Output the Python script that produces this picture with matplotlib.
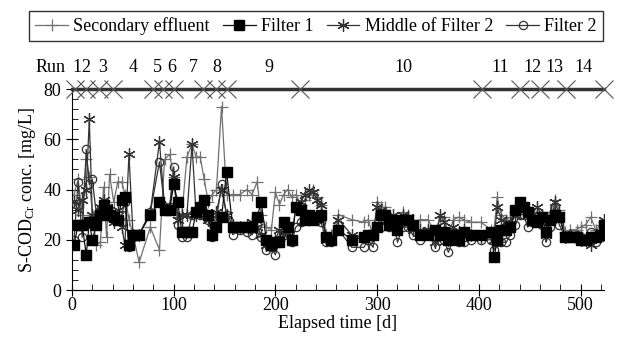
import matplotlib
matplotlib.use("Agg")
import matplotlib.pyplot as plt
from matplotlib.ticker import MultipleLocator
import numpy as np

plt.rcParams['font.family'] = ['Liberation Serif', 'DejaVu Serif']
plt.rcParams['mathtext.fontset'] = 'custom'
plt.rcParams['mathtext.rm'] = 'Liberation Serif'
plt.rcParams['mathtext.it'] = 'Liberation Serif:italic'

days = [2, 6, 10, 14, 17, 20, 24, 28, 31, 34, 37, 41, 45, 49, 52, 56, 60, 66, 77, 86,
        91, 96, 100, 104, 108, 113, 118, 122, 126, 130, 134, 138, 142, 147, 152, 158, 165,
        172, 177, 182, 186, 191, 196, 200, 204, 208, 212, 216, 220, 225, 229, 233, 237,
        241, 245, 250, 255, 262, 275, 287, 291, 296, 300, 304, 308, 312, 316, 320, 325,
        330, 335, 342, 350, 357, 362, 366, 370, 375, 380, 385, 392, 402, 412, 415, 418,
        422, 427, 431, 436, 440, 444, 448, 452, 457, 462, 466, 470, 475, 479, 485, 490,
        496, 500, 505, 510, 515, 520, 523]

secondary = [38, 44, 30, 52, 45, 30, 18, 19, 41, 21, 46, 35, 43, 43, 38, 28, 22, 11, 25, 16,
             52, 54, 45, 29, 30, 53, 58, 53, 53, 44, 35, 38, 40, 73, 38, 38, 38,
             40, 38, 43, 30, 25, 24, 39, 34, 38, 40, 37, 38, 34, 36, 38, 40,
             37, 34, 22, 22, 30, 28, 27, 28, 22, 35, 33, 33, 30, 27, 28, 31,
             30, 27, 28, 28, 23, 29, 29, 22, 28, 29, 28, 27, 27, 24, 24, 37,
             30, 28, 29, 31, 34, 33, 32, 31, 31, 30, 27, 31, 36, 32, 23, 24,
             24, 25, 26, 29, 24, 26, 27]

filter1 = [18, 26, 26, 14, 27, 20, 26, 30, 34, 32, 30, 29, 28, 36, 37, 18, 22, 22, 30, 35,
           32, 32, 42, 35, 23, 23, 23, 31, 33, 36, 30, 22, 25, 29, 47, 25, 25,
           25, 25, 29, 35, 20, 18, 19, 19, 27, 25, 20, 33, 32, 28, 30, 28,
           29, 30, 21, 20, 24, 20, 21, 22, 22, 25, 30, 30, 26, 28, 24, 28,
           28, 26, 22, 22, 24, 22, 23, 20, 22, 20, 23, 22, 22, 23, 13, 20,
           24, 24, 25, 32, 35, 33, 31, 28, 27, 29, 23, 28, 30, 29, 21, 21,
           21, 20, 20, 21, 21, 22, 26]

middle_f2 = [35, 32, 36, 40, 68, 30, 28, 33, 36, 33, 30, 27, 32, 25, 18, 54, 22, 22, 31, 59,
             33, 33, 45, 28, 30, 30, 58, 30, 31, 30, 28, 23, 31, 40, 30, 26, 25,
             26, 27, 25, 22, 18, 18, 20, 24, 22, 26, 20, 33, 35, 38, 40, 39,
             36, 34, 20, 20, 28, 22, 21, 21, 22, 33, 32, 30, 27, 30, 25, 30,
             29, 24, 24, 24, 19, 30, 27, 20, 25, 23, 24, 22, 21, 22, 20, 33,
             28, 27, 26, 30, 32, 32, 30, 30, 33, 30, 22, 27, 35, 30, 21, 22,
             21, 20, 20, 18, 21, 23, 28]

filter2 = [20, 43, 21, 56, 42, 44, 30, 32, 31, 32, 29, 30, 28, 30, 35, 17, 21, 22, 31, 51,
           33, 33, 49, 26, 21, 21, 30, 31, 30, 30, 28, 21, 28, 42, 30, 22, 24,
           23, 22, 26, 21, 16, 17, 14, 20, 22, 23, 19, 25, 27, 28, 28, 29,
           28, 27, 19, 19, 24, 17, 17, 20, 17, 25, 25, 28, 25, 27, 19, 25,
           25, 22, 20, 23, 17, 20, 20, 15, 20, 19, 19, 20, 20, 20, 16, 19,
           19, 19, 22, 26, 30, 30, 25, 27, 27, 26, 19, 25, 33, 26, 21, 22,
           22, 21, 20, 23, 19, 21, 22]

run_bounds = [3, 14, 27, 40, 80, 89, 100, 129, 142, 152, 224, 403, 440, 460, 486, 523]
run_labels = ['1', '2', '3', '4', '5', '6', '7', '8', '9', '10', '11', '12', '13', '14']
run_label_days = [5, 14, 30, 60, 84, 98, 119, 142, 194, 326, 421, 453, 474, 503]

fig = plt.figure(figsize=(6.26, 3.5), dpi=100)
ax = fig.add_axes([0.115, 0.1714, 0.8498, 0.5743])

asterisk = (6, 2, 0)
l1, = ax.plot(days, secondary, color='#707070', lw=0.9, marker='+', ms=9, mew=0.9,
              label='Secondary effluent', zorder=2)
l2, = ax.plot(days, filter1, color='#111111', lw=0.9, marker='s', ms=6.5, mfc='black',
              mec='black', label='Filter 1', zorder=4)
l3, = ax.plot(days, middle_f2, color='#333333', lw=0.9, marker=asterisk, ms=9, mew=0.9,
              label='Middle of Filter 2', zorder=3)
l4, = ax.plot(days, filter2, color='#333333', lw=0.9, marker='o', ms=6, mfc='none',
              mec='#333333', mew=0.9, label='Filter 2', zorder=3)

# run bar at the top
ax.plot([0, 523], [80, 80], color='#333333', lw=2.5, clip_on=False, zorder=5)
ax.plot(run_bounds, [80] * len(run_bounds), linestyle='none', marker='x', ms=13,
        mew=0.8, color='#555555', clip_on=False, zorder=6)
ax.text(-6, 88.5, 'Run', ha='right', va='center', fontsize=13)
for lab, d in zip(run_labels, run_label_days):
    ax.text(d, 88.5, lab, ha='center', va='center', fontsize=13)

ax.set_xlim(0, 523)
ax.set_ylim(0, 80)
ax.spines['top'].set_visible(False)
ax.spines['right'].set_visible(False)
ax.xaxis.set_major_locator(MultipleLocator(100))
ax.xaxis.set_minor_locator(MultipleLocator(20))
ax.yaxis.set_major_locator(MultipleLocator(20))
ax.yaxis.set_minor_locator(MultipleLocator(4))
ax.tick_params(which='major', direction='inout', length=8, width=0.8, labelsize=13)
ax.tick_params(which='minor', direction='in', length=4, width=0.6)
ax.tick_params(axis='x', pad=1)
ax.set_xlabel('Elapsed time [d]', fontsize=13, labelpad=1)
ax.set_ylabel(r'S-COD$_{\mathrm{Cr}}$ conc. [mg/L]', fontsize=13, labelpad=4)

leg = fig.legend(handles=[l1, l2, l3, l4], loc='center',
                 bbox_to_anchor=(0.032, 0.874, 0.946, 0.103), mode='expand', ncol=4,
                 frameon=True, fancybox=False, edgecolor='black', fontsize=13,
                 handlelength=1.8, handletextpad=0.3, borderpad=0.35, columnspacing=0.6)
leg.get_frame().set_linewidth(1.0)

fig.savefig('out.png', dpi=100)
